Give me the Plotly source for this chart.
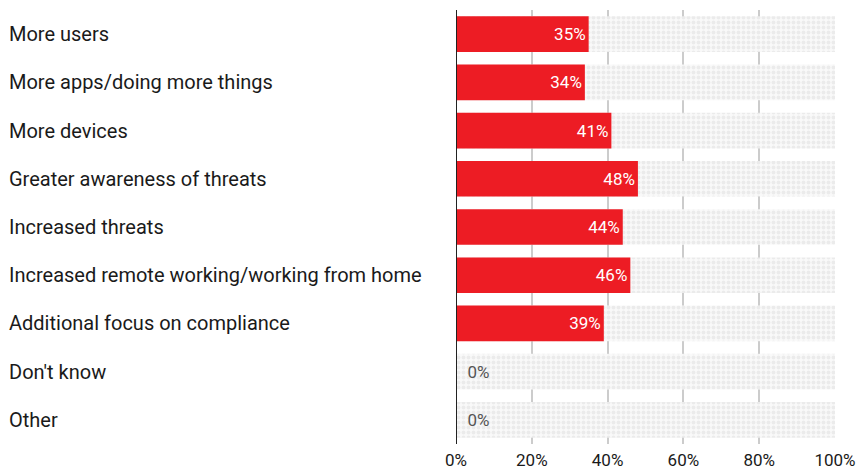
import plotly.graph_objects as go

categories = ["More users", "More apps/doing more things", "More devices",
              "Greater awareness of threats", "Increased threats",
              "Increased remote working/working from home",
              "Additional focus on compliance", "Don't know", "Other"]
values = [35, 34, 41, 48, 44, 46, 39, 0, 0]
full = [100] * len(categories)
tick_vals = [0, 20, 40, 60, 80, 100]
tick_text = ["0%", "20%", "40%", "60%", "80%", "100%"]

RED = "#ED1C24"
FONT = "Roboto"

fig = go.Figure()
fig.add_trace(go.Bar(
    y=categories, x=full, orientation="h", width=0.74,
    marker=dict(color="#f6f6f6", line=dict(width=0),
                pattern=dict(shape=".", fgcolor="#dedede", bgcolor="#f9f9f9",
                             size=5, solidity=0.5)),
    hoverinfo="skip", showlegend=False))
fig.add_trace(go.Bar(
    y=categories, x=values, orientation="h", width=0.74,
    marker=dict(color=RED, line=dict(width=[0 if v > 0 else 1.5 for v in values], color=RED)),
    text=[f"{v}%" if v > 0 else f"  {v}%" for v in values],
    textposition=["inside" if v > 0 else "outside" for v in values],
    insidetextanchor="end",
    textfont=dict(family=FONT, size=17, color=["white" if v > 0 else "#555555" for v in values]),
    cliponaxis=False, showlegend=False))

for c in categories:
    fig.add_annotation(x=(7 - 456) / 379, xref="paper", y=c, yref="y", text=c,
                       xanchor="left", showarrow=False,
                       font=dict(family=FONT, size=20, color="#1a1a1a"))

fig.update_layout(
    width=859, height=471, barmode="overlay",
    margin=dict(l=456, r=24, t=10, b=27, autoexpand=False),
    paper_bgcolor="white", plot_bgcolor="white",
    font=dict(family=FONT, size=17, color="#1a1a1a"),
    xaxis=dict(range=[0, 100], tickvals=tick_vals, ticktext=tick_text,
               showgrid=True, gridcolor="#cccccc", gridwidth=1.5,
               zeroline=False, showline=False, ticks="", automargin=False,
               ticklabelstandoff=4,
               tickfont=dict(family=FONT, size=17, color="#1a1a1a"), layer="below traces"),
    yaxis=dict(showticklabels=False, showgrid=False, automargin=False,
               zeroline=False, showline=False, range=[8.5, -0.5]),
    shapes=[dict(type="line", xref="x", yref="paper", x0=0, x1=0, y0=0, y1=1,
                 line=dict(color="#222222", width=2), layer="above")],
)
fig.write_html("out.html")
